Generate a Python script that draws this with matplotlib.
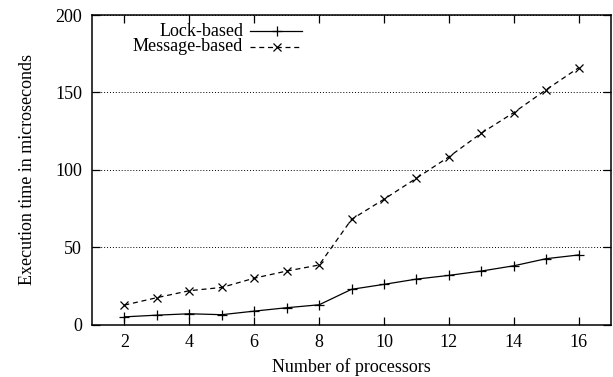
import matplotlib
matplotlib.use('Agg')
import matplotlib.pyplot as plt
from matplotlib.lines import Line2D

# processors vs execution time (microseconds)
procs = [2, 3, 4, 5, 6, 7, 8, 9, 10, 11, 12, 13, 14, 15, 16]
lock_based = [5, 6.1, 7, 6.4, 8.7, 10.9, 12.8, 22.8, 26, 29.4, 31.8, 34.6, 38, 42.6, 45]
message_based = [12.6, 17.4, 21.9, 24, 30, 34.6, 38.5, 68, 81, 94.6, 108.4, 123.7, 137, 151.8, 166]

x_ticks = [2, 4, 6, 8, 10, 12, 14, 16]
y_ticks = [0, 50, 100, 150, 200]

plt.rcParams['font.family'] = ['Liberation Serif', 'DejaVu Serif']
plt.rcParams['font.size'] = 13

fig = plt.figure(figsize=(6.13, 3.77), dpi=100)
ax = fig.add_axes([0.150, 0.139, 0.847, 0.821])

ax.plot(procs, lock_based, 'k-', marker='+', markersize=7, linewidth=0.9, markeredgewidth=0.9)
ax.plot(procs, message_based, 'k--', marker='x', markersize=6, linewidth=0.9,
        markeredgewidth=0.9, dashes=(4, 3))

ax.set_xlim(1, 17)
ax.set_ylim(0, 200)
ax.set_xticks(x_ticks)
ax.set_yticks(y_ticks)
ax.tick_params(direction='in', length=6, width=0.9, top=True, right=True, pad=7)
ax.yaxis.grid(True, linestyle=(0, (1, 2)), color='k', linewidth=0.7)
for s in ax.spines.values():
    s.set_linewidth(1.1)

ax.set_xlabel('Number of processors', labelpad=5)
ax.set_ylabel('Execution time in microseconds', labelpad=14)

# gnuplot-style key: right aligned text, sample on the right
labels = ['Lock-based', 'Message-based']
styles = [dict(linestyle='-', marker='+', markersize=7),
          dict(linestyle='--', marker='x', markersize=6, dashes=(4, 3))]
key_y = [0.948, 0.897]
for lab, st, yk in zip(labels, styles, key_y):
    ax.text(0.291, yk, lab, transform=ax.transAxes, ha='right', va='center')
    ax.add_line(Line2D([0.304, 0.356, 0.405], [yk, yk, yk], transform=ax.transAxes,
                       color='k', linewidth=0.9, markeredgewidth=0.9, markevery=[1], **st))

fig.savefig('out.png', dpi=100)
